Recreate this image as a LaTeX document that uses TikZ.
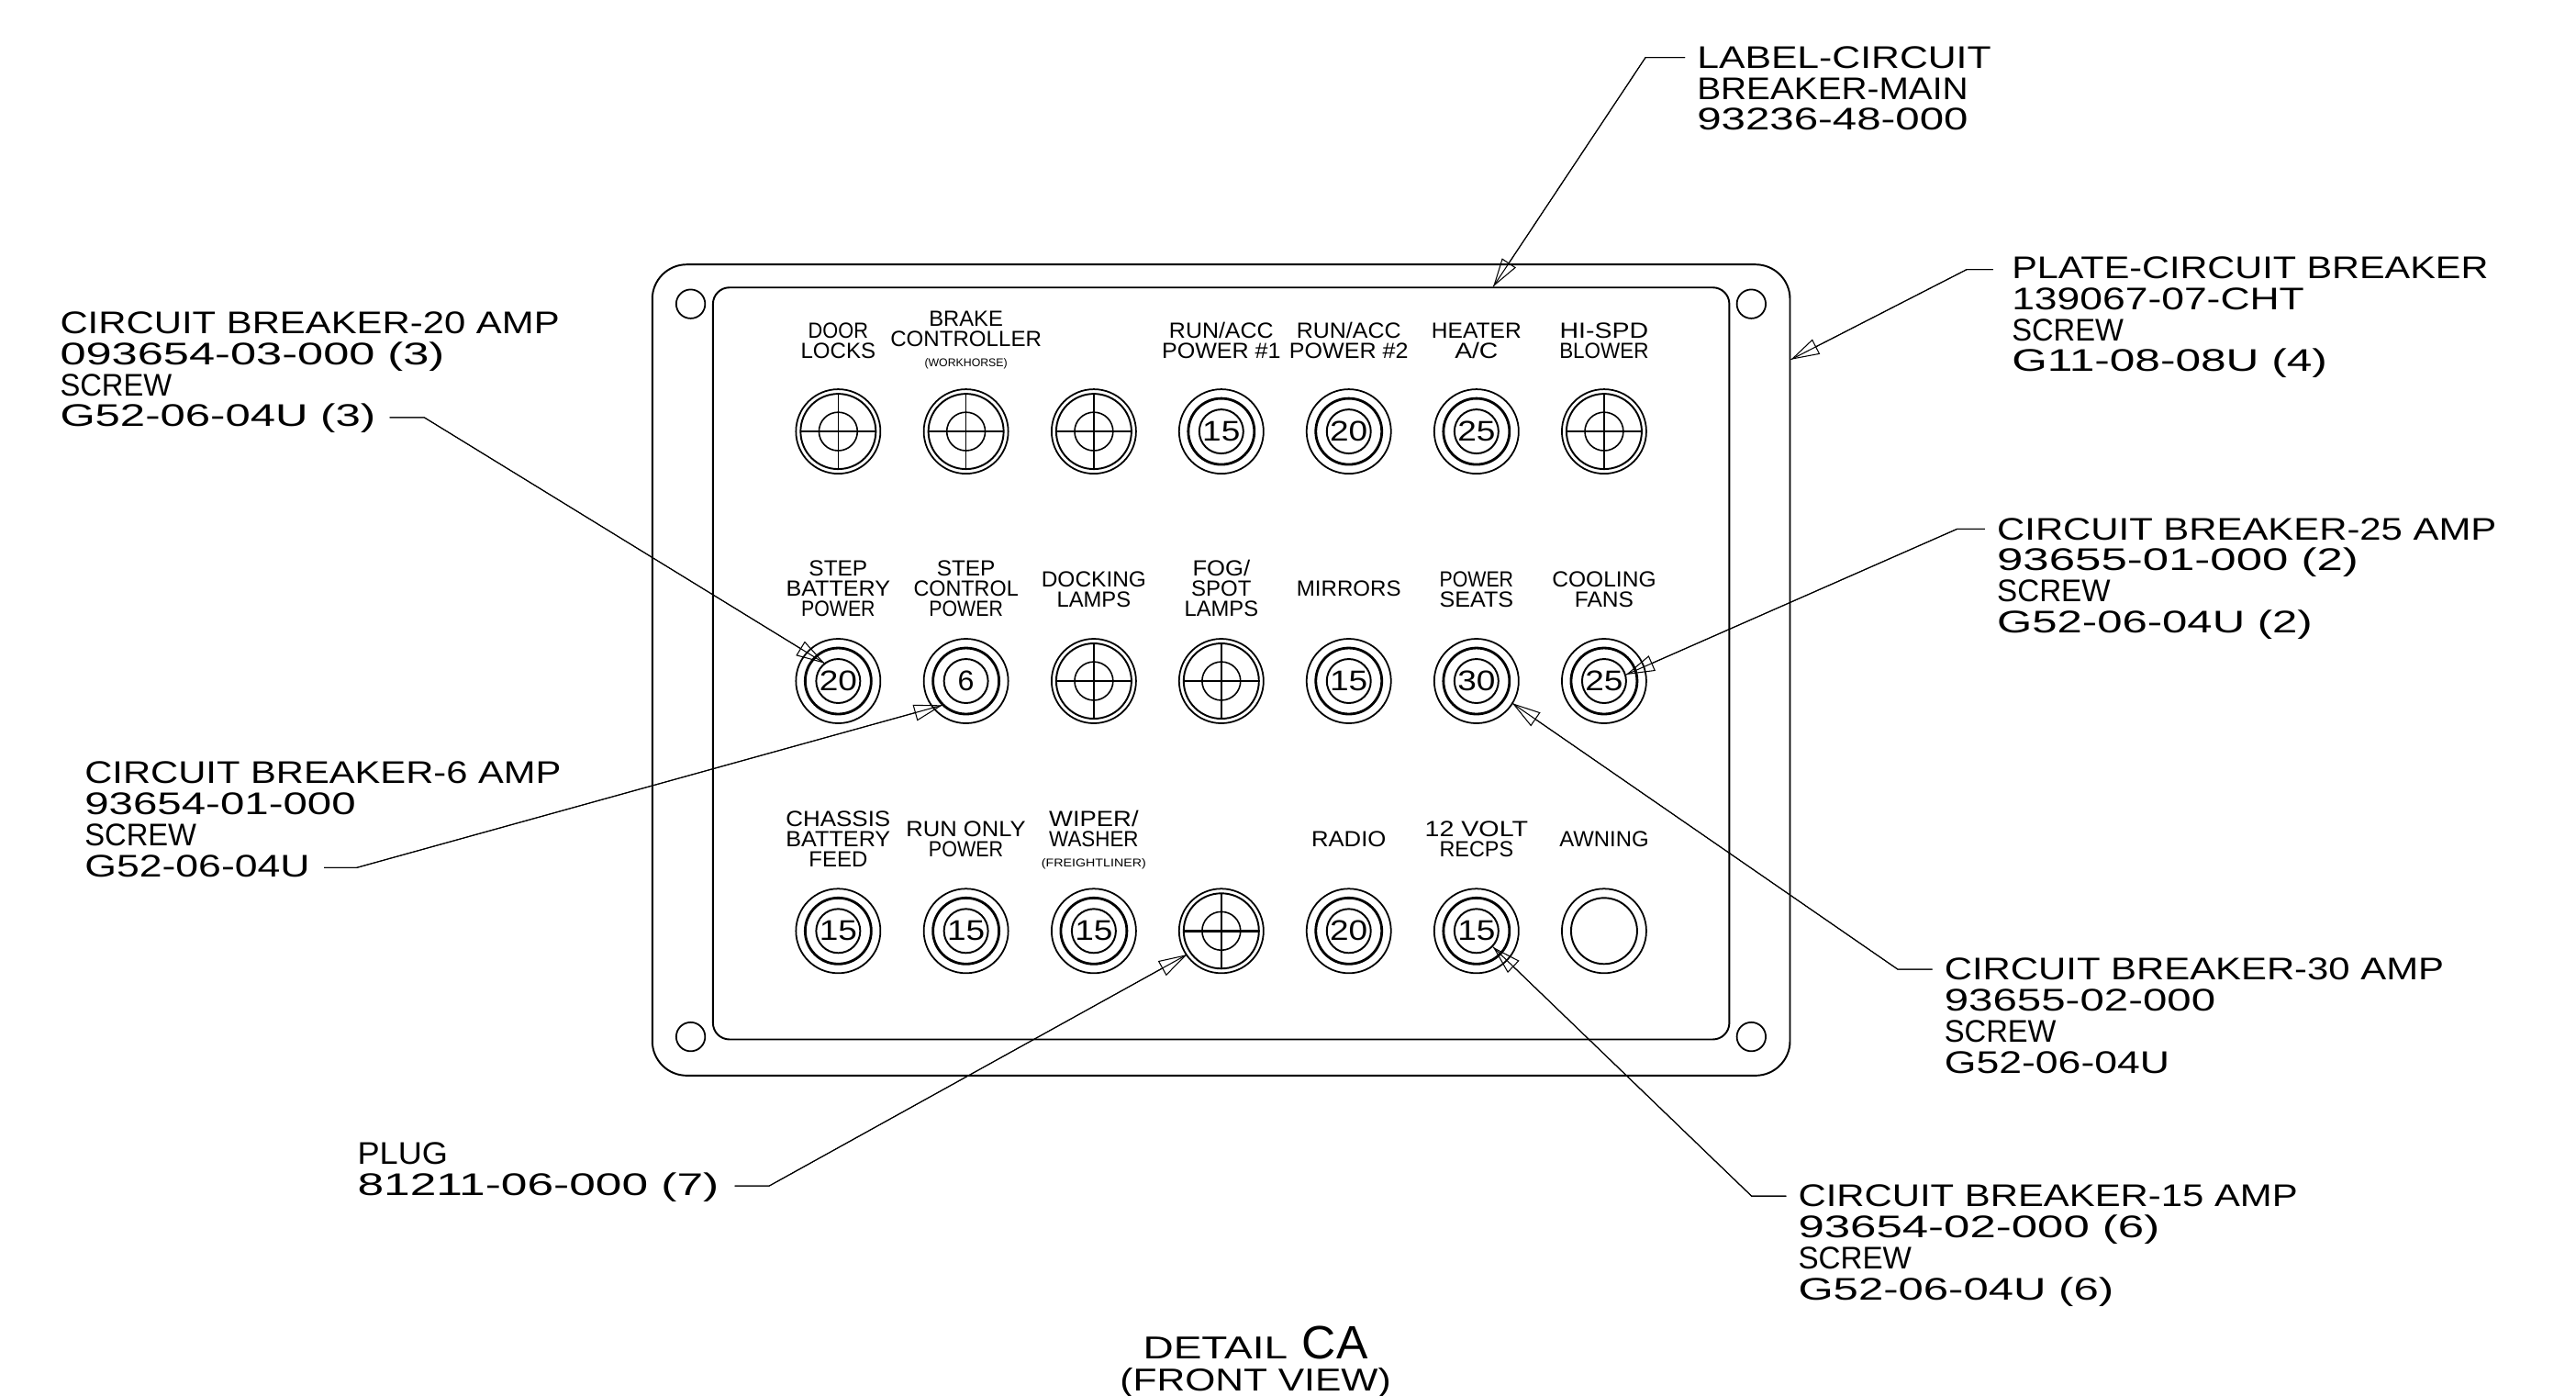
\documentclass[tikz,border=0pt]{standalone}
\usepackage{fontspec}
\usepackage{graphicx}
\setmainfont{Liberation Sans}
\usetikzlibrary{arrows.meta,calc}
\newsavebox\wbox
\newsavebox\hbx
% set text to a given width (in picture units) at the font's own height; cap height, no depth
\newcommand\fitw[2]{\leavevmode\sbox\hbx{H}\sbox\wbox{#2}%
  \pgfmathsetmacro\wr{#1*0.5093/\the\wd\wbox}%
  \sbox\wbox{\scalebox{\wr}[1]{\usebox\wbox}}%
  \ht\wbox=\ht\hbx \dp\wbox=0pt \usebox\wbox}
\newcommand\smfont{\fontsize{3.5}{3.5}\selectfont}
\tikzset{
  plate/.style={draw,line width=.55pt,rectangle,inner sep=0pt},
  hole/.style={draw,line width=.5pt,circle,inner sep=0pt,minimum size=.315cm},
  brkr/.style={draw,line width=.5pt,circle,inner sep=0pt,minimum size=.92cm,font=\fontsize{8.8}{8.8}\selectfont},
  midring/.style={line width=.8pt},
  inring/.style={line width=.55pt},
  thinline/.style={line width=.45pt},
  barline/.style={line width=.8pt},
  bigl/.style={anchor=north west,inner sep=0pt,align=left,font=\fontsize{9.7}{9.62}\selectfont},
  pan/.style={anchor=north,inner sep=0pt,align=center,font=\fontsize{6.8}{6.26}\selectfont},
  leader/.style={draw,line width=.3pt,postaction={draw,-{Triangle[open,length=.31cm,width=.18cm]}}},
}
\newcommand\brk[5]{\node[brkr] (#1) at (#2,#3) {\fitw{#4}{#5}};
  \draw[midring] (#1.center) circle (20.1);
  \draw[inring] (#1.center) circle (13.4);}
\newcommand\plg[3]{\node[brkr] (#1) at (#2,#3) {};
  \draw[inring] (#1.center) circle (22.9);
  \draw[thinline] (#1.center) circle (11.7);
  \draw[thinline] ($(#1.center)+(0,-22.9)$) -- ($(#1.center)+(0,22.9)$);
  \draw[barline] ($(#1.center)+(-22.9,0)$) -- ($(#1.center)+(22.9,0)$);}
\begin{document}
\begin{tikzpicture}[x=0.0179cm,y=-0.0179cm]
\useasboundingbox (0,0) rectangle (1568,849.15);
% panel
\node[plate,rounded corners=.376cm,minimum width=12.395cm,minimum height=8.835cm] (outer) at (743.3,407.8) {};
\node[plate,rounded corners=.18cm,minimum width=11.073cm,minimum height=8.191cm] (inner) at (743.3,403.8) {};
\node[hole] (h1) at (420.4,185) {};
\node[hole] (h2) at (1066,185) {};
\node[hole] (h3) at (420.4,631) {};
\node[hole] (h4) at (1066,631) {};
% row 1
\plg{a1}{510.2}{262.6}
\plg{a2}{588}{262.6}
\plg{a3}{665.8}{262.6}
\brk{a4}{743.4}{262.6}{23}{15}
\brk{a5}{821}{262.6}{23}{20}
\brk{a6}{898.7}{262.6}{23}{25}
\plg{a7}{976.4}{262.6}
% row 2
\brk{b1}{510.2}{414.5}{23}{20}
\brk{b2}{588}{414.5}{10}{6}
\plg{b3}{665.8}{414.5}
\plg{b4}{743.4}{414.5}
\brk{b5}{821}{414.5}{23}{15}
\brk{b6}{898.7}{414.5}{23}{30}
\brk{b7}{976.4}{414.5}{23}{25}
% row 3
\brk{c1}{510.2}{566.6}{23}{15}
\brk{c2}{588}{566.6}{23}{15}
\brk{c3}{665.8}{566.6}{23}{15}
\plg{c4}{743.4}{566.6}
\brk{c5}{821}{566.6}{23}{20}
\brk{c6}{898.7}{566.6}{23}{15}
\node[brkr] (c7) at (976.4,566.6) {};
\draw[inring] (c7.center) circle (20.1);
% panel labels row 1
\node[pan] (p11) at (510.2,196) {\fitw{36.5}{DOOR}\\\fitw{45.6}{LOCKS}};
\node[pan] (p12) at (588,189) {\fitw{45}{BRAKE}\\\fitw{92}{CONTROLLER}\\\fitw{50.4}{\smfont (WORKHORSE)}};
\node[pan] (p14) at (743.4,196) {\fitw{63.5}{RUN/ACC}\\\fitw{72.4}{POWER \#1}};
\node[pan] (p15) at (821,196) {\fitw{63.5}{RUN/ACC}\\\fitw{72.4}{POWER \#2}};
\node[pan] (p16) at (898.7,196) {\fitw{54.6}{HEATER}\\\fitw{26.3}{A/C}};
\node[pan] (p17) at (976.4,196) {\fitw{54}{HI-SPD}\\\fitw{54.4}{BLOWER}};
% row 2
\node[pan] (p21) at (510.2,341) {\fitw{35.6}{STEP}\\\fitw{63.5}{BATTERY}\\\fitw{45}{POWER}};
\node[pan] (p22) at (588,341) {\fitw{35.6}{STEP}\\\fitw{63.8}{CONTROL}\\\fitw{45}{POWER}};
\node[pan] (p23) at (665.8,347.4) {\fitw{63.8}{DOCKING}\\\fitw{45}{LAMPS}};
\node[pan] (p24) at (743.4,341) {\fitw{35}{FOG/}\\\fitw{36.5}{SPOT}\\\fitw{45}{LAMPS}};
\node[pan] (p25) at (821,353.4) {\fitw{63.5}{MIRRORS}};
\node[pan] (p26) at (898.7,347.4) {\fitw{45}{POWER}\\\fitw{45}{SEATS}};
\node[pan] (p27) at (976.4,347.4) {\fitw{63.3}{COOLING}\\\fitw{35.8}{FANS}};
% row 3
\node[pan] (p31) at (510.2,493.4) {\fitw{63.6}{CHASSIS}\\\fitw{63.6}{BATTERY}\\\fitw{35.7}{FEED}};
\node[pan] (p32) at (588,499.5) {\fitw{72.8}{RUN ONLY}\\\fitw{45.4}{POWER}};
\node[pan] (p33) at (665.8,493.4) {\fitw{54.4}{WIPER/}\\\fitw{54.4}{WASHER}\\\fitw{63.6}{\smfont (FREIGHTLINER)}};
\node[pan] (p35) at (821,505.5) {\fitw{45.5}{RADIO}};
\node[pan] (p36) at (898.7,499.5) {\fitw{62.8}{12 VOLT}\\\fitw{45}{RECPS}};
\node[pan] (p37) at (976.4,505.5) {\fitw{54.4}{AWNING}};
% callouts
\node[bigl] (lmain) at (1032.6,28) {\fitw{179}{LABEL-CIRCUIT}\\\fitw{165}{BREAKER-MAIN}\\\fitw{165}{93236-48-000}};
\node[bigl] (lplate) at (1224.2,156) {\fitw{290}{PLATE-CIRCUIT BREAKER}\\\fitw{178}{139067-07-CHT}\\\fitw{68}{SCREW}\\\fitw{192}{G11-08-08U (4)}};
\node[bigl] (l25) at (1215.2,315) {\fitw{304}{CIRCUIT BREAKER-25 AMP}\\\fitw{220}{93655-01-000 (2)}\\\fitw{69}{SCREW}\\\fitw{192}{G52-06-04U (2)}};
\node[bigl] (l30) at (1183.2,583) {\fitw{304}{CIRCUIT BREAKER-30 AMP}\\\fitw{165}{93655-02-000}\\\fitw{68}{SCREW}\\\fitw{137}{G52-06-04U}};
\node[bigl] (l15) at (1094.2,721) {\fitw{304}{CIRCUIT BREAKER-15 AMP}\\\fitw{220}{93654-02-000 (6)}\\\fitw{69}{SCREW}\\\fitw{192}{G52-06-04U (6)}};
\node[bigl] (l20) at (36.2,189.5) {\fitw{304}{CIRCUIT BREAKER-20 AMP}\\\fitw{234}{093654-03-000 (3)}\\\fitw{68}{SCREW}\\\fitw{192}{G52-06-04U (3)}};
\node[bigl] (l6) at (51.2,463.5) {\fitw{290}{CIRCUIT BREAKER-6 AMP}\\\fitw{165}{93654-01-000}\\\fitw{68}{SCREW}\\\fitw{137}{G52-06-04U}};
\node[bigl] (lplug) at (217.2,695) {\fitw{55}{PLUG}\\\fitw{220}{81211-06-000 (7)}};
\node[anchor=north,inner sep=0pt,align=center,font=\fontsize{9.8}{9.98}\selectfont] (title) at (764.2,813.6)
  {\fitw{88}{DETAIL}\hspace{4.5pt}\fitw{40}{\fontsize{14.5}{14}\selectfont CA}\\\fitw{165}{(FRONT VIEW)}};
% leaders
\coordinate (tmain) at ($(inner.north west)+(475.5,0)$);
\coordinate (tplate) at ($(outer.north east)+(0,58.4)$);
\coordinate (t25) at ($(b7.center)+(13.4,-3.9)$);
\coordinate (t30) at ($(b6.center)+(21.8,13.5)$);
\coordinate (t15) at ($(c6.center)+(10.1,9.8)$);
\coordinate (t20) at ($(b1.center)+(-8.3,-10.8)$);
\coordinate (t6) at ($(b2.center)+(-14.4,14.7)$);
\coordinate (tplug) at ($(c4.center)+(-20.9,14.4)$);
\draw[leader] ($(lmain.north west)+(-7,7)$) -- ($(lmain.north west)+(-31,7)$) -- (tmain);
\draw[leader] ($(lplate.north west)+(-11,8)$) -- ($(lplate.north west)+(-27,8)$) -- (tplate);
\draw[leader] ($(l25.north west)+(-7,7)$) -- ($(l25.north west)+(-24,7)$) -- (t25);
\draw[leader] ($(l30.north west)+(-7,7)$) -- ($(l30.north west)+(-28,7)$) -- (t30);
\draw[leader] ($(l15.north west)+(-7,7)$) -- ($(l15.north west)+(-28,7)$) -- (t15);
\draw[leader] ($(l20.south west)+(201,-6)$) -- ($(l20.south west)+(222,-6)$) -- (t20);
\draw[leader] ($(l6.south west)+(146,-6)$) -- ($(l6.south west)+(166,-6)$) -- (t6);
\draw[leader] ($(lplug.south west)+(230,-6)$) -- ($(lplug.south west)+(251,-6)$) -- (tplug);
\end{tikzpicture}
\end{document}
